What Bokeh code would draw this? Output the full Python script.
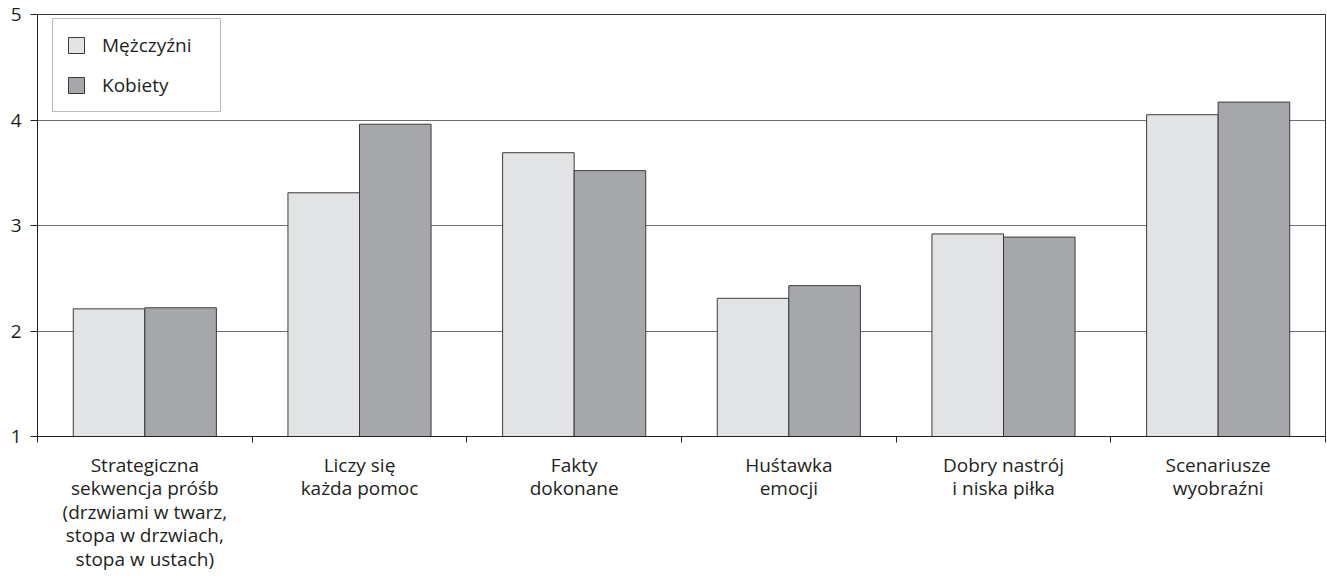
import numpy as np
from bokeh.plotting import figure
from bokeh.models import FixedTicker, ColumnDataSource, Legend, LegendItem, Range1d
from bokeh.embed import file_html
from bokeh.resources import INLINE

categories = [
    "Strategiczna\nsekwencja próśb\n(drzwiami w twarz,\nstopa w drzwiach,\nstopa w ustach)",
    "Liczy się\nkażda pomoc",
    "Fakty\ndokonane",
    "Huśtawka\nemocji",
    "Dobry nastrój\ni niska piłka",
    "Scenariusze\nwyobraźni",
]
men = [2.21, 3.31, 3.69, 2.31, 2.92, 4.05]
women = [2.22, 3.96, 3.52, 2.43, 2.89, 4.17]
series_names = ["Mężczyźni", "Kobiety"]
y_ticks = [1, 2, 3, 4, 5]

FONT = "Open Sans"
TXT = "#231f20"

n = len(categories)
idx = np.arange(n)
centers = idx + 0.5
bw = 1 / 3

p = figure(width=1327, height=580, output_backend="svg", toolbar_location=None,
           x_range=Range1d(0, n), y_range=Range1d(1, 5),
           min_border_left=37, min_border_right=2, min_border_top=14, min_border_bottom=144)
p.background_fill_color = "white"
p.border_fill_color = "white"
p.outline_line_color = "#333333"
p.outline_line_width = 1

src_m = ColumnDataSource(dict(x=centers - bw / 2, top=men))
src_w = ColumnDataSource(dict(x=centers + bw / 2, top=women))
r_m = p.vbar(x="x", top="top", bottom=1, width=bw, source=src_m,
             fill_color="#e2e3e5", line_color="#3a3a3a", line_width=1)
r_w = p.vbar(x="x", top="top", bottom=1, width=bw, source=src_w,
             fill_color="#a6a7ab", line_color="#3a3a3a", line_width=1)

# x axis
xa = p.xaxis[0]
xa.ticker = FixedTicker(ticks=list(centers), minor_ticks=list(range(n + 1)))
xa.major_label_overrides = {float(c): lab for c, lab in zip(centers, categories)}
xa.major_tick_out = 0
xa.major_tick_in = 0
xa.minor_tick_out = 6
xa.minor_tick_in = 0
xa.minor_tick_line_color = "#222222"
xa.axis_line_color = "#222222"
xa.major_label_text_font = FONT
xa.major_label_text_font_size = "19px"
xa.major_label_text_line_height = 0.91
xa.major_label_text_color = TXT
xa.major_label_standoff = 9
xa.major_label_orientation = "horizontal"

# y axis
ya = p.yaxis[0]
ya.ticker = FixedTicker(ticks=y_ticks)
ya.major_tick_out = 7
ya.major_tick_in = 0
ya.minor_tick_out = 0
ya.minor_tick_in = 0
ya.axis_line_color = "#222222"
ya.major_tick_line_color = "#222222"
ya.major_label_text_font = FONT
ya.major_label_text_font_size = "19px"
ya.major_label_text_color = TXT
ya.major_label_standoff = 9

p.xgrid.visible = False
p.ygrid.ticker = FixedTicker(ticks=y_ticks[1:])
p.ygrid.grid_line_color = "#6e6e6e"
p.ygrid.grid_line_width = 1

legend = Legend(items=[LegendItem(label=series_names[0], renderers=[r_m]),
                       LegendItem(label=series_names[1], renderers=[r_w])],
                location=(15, 324))
legend.border_line_color = "#7a7a7a"
legend.border_line_width = 1
legend.background_fill_alpha = 1
legend.label_text_font = FONT
legend.label_text_font_size = "19px"
legend.label_text_color = TXT
legend.label_height = 20
legend.label_width = 105
legend.glyph_width = 20
legend.glyph_height = 20
legend.label_standoff = 16
legend.spacing = 14
legend.padding = 13
legend.margin = 0
p.add_layout(legend, "center")

open("out.html", "w").write(file_html(p, INLINE))
